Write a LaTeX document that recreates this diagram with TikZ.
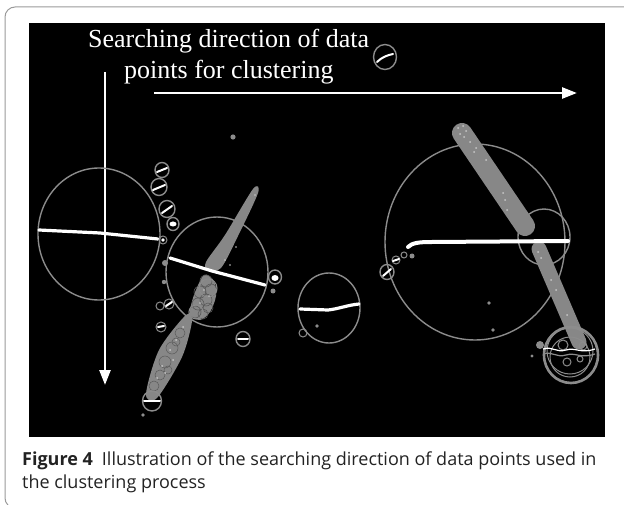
\documentclass[tikz,border=0pt]{standalone}
\usepackage{fontspec}
\setmainfont{Liberation Serif}
\newfontfamily\capfont{Open Sans}
\usetikzlibrary{arrows.meta}
\definecolor{ringgray}{HTML}{8C8C8C}
\definecolor{bandgray}{HTML}{878787}
\definecolor{speck}{HTML}{C8C8C8}
\definecolor{seam}{HTML}{5A5A5A}
\definecolor{framegray}{HTML}{9A9A9A}
\definecolor{captext}{HTML}{222222}
\begin{document}
\begin{tikzpicture}[x=1pt,y=-1pt,
  ring/.style={draw=ringgray,line width=1.4pt},
  thinring/.style={draw=ringgray,line width=1pt},
  streak/.style={draw=white,line width=3.2pt,line cap=round},
  minstreak/.style={draw=white,line width=2pt,line cap=round},
  dotmark/.style={fill=ringgray},
  band/.style={draw=bandgray,line cap=round},
  blob/.style={fill=bandgray},
  flake/.style={fill=speck},
  sweep/.style={draw=white,line width=2.6pt,-{Triangle[length=15pt,width=11pt]}},
  title/.style={text=white,font=\fontsize{26}{30}\selectfont,anchor=base west,inner sep=0pt},
  captxt/.style={text=captext,font=\capfont\fontsize{18}{22}\selectfont,anchor=base west,inner sep=0pt}]
\useasboundingbox (0,0) rectangle (624,505);
\begin{scope}
\clip (0,0) rectangle (624,505);
% outer rounded frame
\draw[framegray,line width=1pt,rounded corners=10pt] (5,7) rectangle (636,508);
\end{scope}
% black image area
\fill[black] (29,23) rectangle (605,437);

% heading inside the image
\node[title] (t1) at (88,48) {Searching direction of data};
\node[title] (t2) at (124,79) {points for clustering};

% search direction arrows
\coordinate (hs) at (154,93);
\coordinate (he) at (577,93);
\coordinate (vs) at (105,72);
\coordinate (ve) at (105,385);
\draw[sweep] (hs) -- (he);
\draw[sweep] (vs) -- (ve);

% small cluster beside the heading
\draw[ring] (385,57) ellipse [x radius=11.5pt,y radius=12.5pt];
\draw[minstreak] (377,62) .. controls (382,57) and (388,55) .. (393,54);

% ---------------- left large cluster ----------------
\draw[ring] (99,234) ellipse [x radius=61pt,y radius=66pt];
\draw[streak] (39,230) -- (100,233) -- (158,239);
% small rings along its upper right
\draw[ring] (162,170) ellipse [x radius=7pt,y radius=7.5pt];
\draw[minstreak] (157,172) -- (167,168);
\draw[ring] (159,187) ellipse [x radius=8pt,y radius=8.5pt];
\draw[minstreak] (153,190) -- (165,185);
\draw[ring] (167,209) ellipse [x radius=8pt,y radius=8.5pt];
\draw[minstreak] (162,213) -- (172,206);
\draw[ring] (173,224) ellipse [x radius=6pt,y radius=6.5pt];
\fill[white] (173,224) ellipse [x radius=3.5pt,y radius=2.5pt];
\draw[thinring] (163,240) circle (4pt);
\fill[white] (163,240) circle (1.8pt);
\fill[dotmark] (233,137) circle (2.6pt);

% ---------------- middle cluster ----------------
\draw[ring] (217,272) ellipse [x radius=51pt,y radius=55pt];
% tapered band through the middle ring
\fill[blob] plot[smooth cycle] coordinates {(253,189) (258,193) (238,236) (221,268) (208,270) (206,262) (225,235)};
% packed small rings below the band
\fill[blob] plot[smooth cycle] coordinates {(204,275) (214,281) (216,296) (210,312) (200,320) (190,314) (194,295)};
\foreach \p/\r in {(206,281)/6,(211,290)/6,(200,292)/6,(206,300)/6,(198,304)/6,(208,308)/5,(195,312)/6,(203,314)/5}
  \draw[seam,line width=0.6pt] \p circle (\r pt);
\draw[thinring] (196,312) circle (7pt);
\draw[thinring] (208,288) circle (9pt);
\draw[streak] (170,258) -- (212,271) -- (265,285);
\foreach \p in {(255,195),(236,247),(225,260),(230,265),(204,290),(209,296),(200,303)}
  \fill[flake] \p circle (0.9pt);
% satellites of the middle ring
\fill[dotmark] (165,263) circle (3pt);
\fill[dotmark] (164,282) circle (2.2pt);
\draw[thinring] (160,306) circle (4pt);
\draw[thinring] (169,304) circle (5pt);
\draw[minstreak] (166,306) -- (172,302);
\draw[thinring] (161,327) circle (5pt);
\draw[minstreak] (158,327) -- (164,326);
\draw[ring] (243,339) ellipse [x radius=7pt,y radius=7.5pt];
\draw[minstreak] (238,339) -- (248,339);
\draw[ring] (275,277) ellipse [x radius=6.5pt,y radius=7pt];
\fill[white] (275,278) ellipse [x radius=3.5pt,y radius=3pt];
\fill[dotmark] (273,291) circle (2.5pt);

% ---------------- lower left band ----------------
\fill[blob] plot[smooth cycle] coordinates {(186,315) (192,321) (182,357) (157,398) (146,394) (159,350)};
\foreach \p/\r in {(180,333)/5,(172,348)/6,(165,362)/6,(160,375)/5,(154,386)/5,(176,342)/4,(168,370)/4}
  \draw[seam,line width=0.5pt] \p circle (\r pt);
\foreach \p in {(183,327),(176,340),(170,350),(162,366),(173,360),(157,378),(165,373)}
  \fill[speck] \p circle (1pt);
\draw[ring] (152,401) ellipse [x radius=9.5pt,y radius=10pt];
\draw[minstreak] (144,401) -- (160,401);
\fill[dotmark] (143,415) circle (1.8pt);

% ---------------- small centre cluster ----------------
\draw[ring] (329,308) ellipse [x radius=31pt,y radius=35pt];
\draw[streak] (300,309) -- (328,310) .. controls (338,309) and (348,305) .. (359,304);
\draw[thinring] (303,333) circle (4pt);
\fill[dotmark] (317,326) circle (1.8pt);

% ---------------- right large cluster ----------------
\draw[ring] (475,242) ellipse [x radius=90pt,y radius=98pt];
\draw[ring] (544,237) ellipse [x radius=26pt,y radius=28pt];
% diagonal bands
\draw[band,line width=20pt] (462,133) -- (525,226);
\draw[band,line width=15pt] (539,249) -- (579,342);
\draw[streak,line width=4pt] (408,247) .. controls (412,243) and (418,242) .. (432,242) -- (568,241);
\foreach \p in {(458,128),(463,126),(466,131),(460,134),(464,137),(470,142),(476,148),(474,152),(486,160),(503,193),(505,200),(507,210),(538,252),(541,258),(551,280),(556,290),(567,315)}
  \fill[speck] \p circle (1pt);
% rings at the left of the large ring
\draw[ring] (387,272) ellipse [x radius=7pt,y radius=7.5pt];
\draw[minstreak] (383,276) -- (391,269);
\draw[thinring] (396,260) circle (4pt);
\draw[minstreak] (393,261) -- (399,259);
\draw[thinring] (404,255) circle (3pt);
\fill[dotmark] (412,256) circle (2.5pt);
\fill[dotmark] (489,303) circle (1.8pt);
\fill[dotmark] (493,330) circle (1.8pt);

% ---------------- lower right knot ----------------
\draw[ringgray,line width=2.6pt] (571,355) ellipse [x radius=27pt,y radius=28pt];
\draw[thinring] (570,351) circle (23pt);
\draw[thinring] (570,357) circle (20pt);
\draw[thinring] (563,345) circle (5pt);
\draw[thinring] (583,346) circle (4pt);
\draw[thinring] (567,362) circle (4pt);
\draw[thinring] (580,359) circle (3pt);
\draw[white,line width=1.2pt] (543,349) .. controls (553,346) and (556,353) .. (566,350) .. controls (576,347) and (580,354) .. (595,349);
\draw[ringgray,line width=1.2pt] (543,354) .. controls (553,351) and (556,358) .. (566,355) .. controls (576,352) and (580,359) .. (595,354);
\fill[dotmark] (540,345) circle (4pt);
\fill[dotmark] (532,356) circle (1.6pt);

% ---------------- caption ----------------
\node[captxt] (c1) at (22,465) {\textbf{Figure 4}\hspace{0.5em}Illustration of the searching direction of data points used in};
\node[captxt] (c2) at (22,488) {the clustering process};
\end{tikzpicture}
\end{document}
